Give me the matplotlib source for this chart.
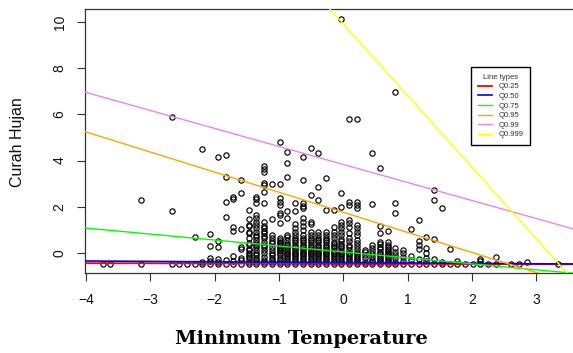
import numpy as np
import matplotlib.pyplot as plt

plt.rcParams['font.family'] = ['Liberation Sans', 'DejaVu Sans']

# standardised minimum temperature levels (x) and the rainfall values seen at each level (y)
temp_levels = [-3.74, -3.63, -3.15, -2.67, -2.55, -2.43, -2.31, -2.19, -2.07, -1.95,
               -1.83, -1.71, -1.59, -1.47, -1.35, -1.23, -1.11, -0.99, -0.87, -0.75,
               -0.63, -0.51, -0.39, -0.27, -0.15, -0.03, 0.09, 0.21, 0.33, 0.45,
               0.57, 0.69, 0.81, 0.93, 1.05, 1.17, 1.29, 1.41, 1.53, 1.65,
               1.77, 1.89, 2.01, 2.13, 2.25, 2.37, 2.61, 2.73, 2.85, 3.33]

rain_at_level = [
    [-0.46],
    [-0.46],
    [-0.46, 2.29],
    [-0.46, 1.80, 5.87],
    [-0.46],
    [-0.46],
    [-0.46, 0.71],
    [-0.46, -0.38, 4.49],
    [-0.46, -0.33, -0.23, 0.30, 0.82],
    [-0.46, -0.37, -0.27, 0.27, 0.53, 4.14],
    [-0.46, -0.31, 1.55, 2.19, 3.28, 4.24],
    [-0.46, -0.35, -0.13, 0.97, 1.11, 2.34, 2.44],
    [-0.46, -0.30, -0.20, 0.17, 0.27, 1.03, 2.58, 3.15],
    [-0.46, -0.38, -0.27, -0.16, -0.09, 0.01, 0.13, 0.19, 0.35, 0.42, 0.64, 0.88,
     0.92, 1.17, 1.21, 1.47, 1.86],
    [-0.46, -0.38, -0.30, -0.20, -0.09, 0.02, 0.13, 0.24, 0.35, 0.45, 0.56, 0.67,
     0.78, 0.92, 1.07, 1.21, 1.36, 1.50, 1.64, 2.15, 2.32, 2.44],
    [-0.46, -0.38, -0.30, -0.16, -0.01, 0.13, 0.24, 0.35, 0.49, 0.64, 0.74, 0.86,
     0.97, 1.08, 1.17, 1.36, 2.15, 2.65, 2.94, 3.04, 3.52, 3.64, 3.76],
    [-0.46, -0.38, -0.30, -0.20, -0.10, 0.02, 0.13, 0.27, 0.42, 0.53, 0.64, 0.78,
     1.46, 2.99],
    [-0.46, -0.38, -0.30, -0.20, -0.10, -0.01, 0.07, 0.13, 0.20, 0.27, 0.35, 0.42,
     0.49, 0.56, 0.64, 1.29, 1.64, 1.74, 2.08, 2.19, 2.37, 2.99, 4.82],
    [-0.46, -0.38, -0.30, -0.22, -0.14, -0.06, 0.02, 0.10, 0.18, 0.26, 0.35, 0.44,
     0.56, 0.68, 0.78, 1.50, 1.80, 3.28, 3.88, 4.36],
    [-0.46, -0.38, -0.30, -0.22, -0.14, -0.06, 0.02, 0.10, 0.18, 0.27, 0.36, 0.46,
     0.56, 0.66, 0.78, 0.92, 1.08, 1.26, 1.83, 2.15],
    [-0.46, -0.38, -0.30, -0.22, -0.14, -0.06, 0.02, 0.10, 0.18, 0.27, 0.36, 0.46,
     0.56, 0.66, 0.78, 1.00, 1.15, 1.36, 1.50, 1.93, 2.04, 2.15, 3.15, 4.14],
    [-0.46, -0.38, -0.30, -0.22, -0.14, -0.06, 0.02, 0.10, 0.18, 0.27, 0.36, 0.46,
     0.56, 0.66, 0.78, 0.92, 1.26, 1.36, 2.51, 4.53],
    [-0.46, -0.38, -0.30, -0.22, -0.14, -0.06, 0.02, 0.10, 0.18, 0.27, 0.36, 0.46,
     0.56, 0.64, 0.78, 0.92, 2.29, 2.84, 4.32],
    [-0.46, -0.38, -0.30, -0.22, -0.14, -0.06, 0.02, 0.10, 0.18, 0.27, 0.36, 0.46,
     0.56, 0.64, 0.78, 0.92, 1.86, 3.23],
    [-0.46, -0.38, -0.30, -0.22, -0.14, -0.06, 0.02, 0.10, 0.20, 0.30, 0.40, 0.49,
     0.64, 0.78, 0.92, 1.14, 1.86],
    [-0.46, -0.38, -0.30, -0.22, -0.14, -0.06, 0.02, 0.10, 0.20, 0.30, 0.40, 0.50,
     0.62, 0.78, 0.92, 1.07, 1.21, 1.36, 1.98, 2.58, 10.13],
    [-0.46, -0.38, -0.30, -0.22, -0.14, -0.06, 0.02, 0.12, 0.24, 0.36, 0.50, 0.64,
     0.86, 1.14, 1.29, 1.43, 2.08, 2.19, 5.78],
    [-0.46, -0.38, -0.30, -0.22, -0.14, -0.06, 0.04, 0.16, 0.30, 0.44, 0.56, 0.78,
     0.92, 1.07, 1.21, 1.93, 2.08, 2.19, 5.80],
    [-0.46, -0.38, -0.23, -0.09, 0.06, 0.13],
    [-0.46, -0.38, -0.30, -0.16, -0.05, 0.10, 0.22, 0.35, 2.12, 4.32],
    [-0.46, -0.38, -0.30, -0.22, -0.14, -0.04, 0.06, 0.16, 0.28, 0.38, 0.48, 0.88,
     1.17, 3.67],
    [-0.46, -0.38, -0.30, -0.22, -0.14, -0.06, 0.02, 0.10, 0.18, 0.26, 0.36, 0.46,
     0.95],
    [-0.46, -0.38, -0.23, -0.09, 0.06, 0.20, 1.72, 2.15, 6.98],
    [-0.46, -0.33, -0.16, -0.01, 0.13],
    [-0.46, -0.30, -0.13, 1.05],
    [-0.46, -0.27, 0.17, 0.35, 0.53, 1.43],
    [-0.46, -0.33, -0.23, -0.01, 0.20, 0.68],
    [-0.46, -0.27, 0.59, 2.29, 2.73],
    [-0.46, -0.40, 1.93],
    [-0.46, 0.17],
    [-0.46, -0.36],
    [-0.46],
    [-0.46],
    [-0.46, -0.35, -0.25],
    [-0.46],
    [-0.46, -0.18],
    [-0.46],
    [-0.46],
    [-0.40],
    [-0.46],
]

# quantile regression fits: rain = intercept + slope * temp
quantiles = ['Q0.25', 'Q0.50', 'Q0.75', 'Q0.95', 'Q0.99', 'Q0.999']
intercepts = [-0.465, -0.415, 0.045, 1.76, 3.83, 9.91]
slopes = [-0.006, -0.017, -0.258, -0.87, -0.78, -3.10]
line_colors = ['#ff0000', '#0000ff', '#00ff00', '#ffa500', '#ee82ee', '#ffff00']
line_widths = [1.3, 1.2, 1.0, 1.0, 1.0, 1.0]


def main():
    temp = np.concatenate([[t] * len(r) for t, r in zip(temp_levels, rain_at_level)])
    rain = np.concatenate(rain_at_level)

    fig = plt.figure(figsize=(5.73, 3.53), dpi=100)
    ax = fig.add_axes([0.1478, 0.2255, 0.8557, 0.749])

    ax.plot(temp, rain, linestyle='none', marker='o', mfc='none', mec='black',
            ms=3.8, mew=0.85, zorder=2)

    for q, a, b, c, w in zip(quantiles, intercepts, slopes, line_colors, line_widths):
        ax.axline((0, a), slope=b, color=c, lw=w, label=q, zorder=3)

    ax.set_xlim(-4.02, 3.60)
    ax.set_ylim(-0.884, 10.56)
    ax.set_xticks(range(-4, 4))
    ax.set_yticks(range(0, 11, 2))

    for s in ax.spines.values():
        s.set_color('#333333')
        s.set_linewidth(0.9)
    ax.tick_params(direction='out', length=6, width=0.8, color='#333333',
                   labelsize=10, labelcolor='#111111')
    ax.tick_params(axis='x', pad=8)
    ax.tick_params(axis='y', pad=7, labelrotation=90)
    plt.setp(ax.get_yticklabels(), va='center')

    leg = ax.legend(title='Line types', loc='upper left', bbox_to_anchor=(0.788, 0.78),
                    fontsize=5.5, title_fontsize=5.5, frameon=True, fancybox=False,
                    framealpha=1, edgecolor='black', handlelength=1.85,
                    handletextpad=0.9, labelspacing=0.3, borderpad=0.85,
                    borderaxespad=0)
    leg.get_frame().set_linewidth(1.0)
    for t in leg.get_texts():
        t.set_color('#333333')
    leg.get_title().set_color('#333333')

    fig.text(18 / 573, 1 - 142 / 353, 'Curah Hujan', rotation=90, ha='center',
             va='center', fontsize=11.5, color='#111111')
    fig.text(301 / 573, 1 - 344 / 353, 'Minimum Temperature', ha='center',
             va='baseline', fontsize=14, fontweight='bold', family='DejaVu Serif')

    fig.savefig('out.png', dpi=100)


if __name__ == '__main__':
    main()
